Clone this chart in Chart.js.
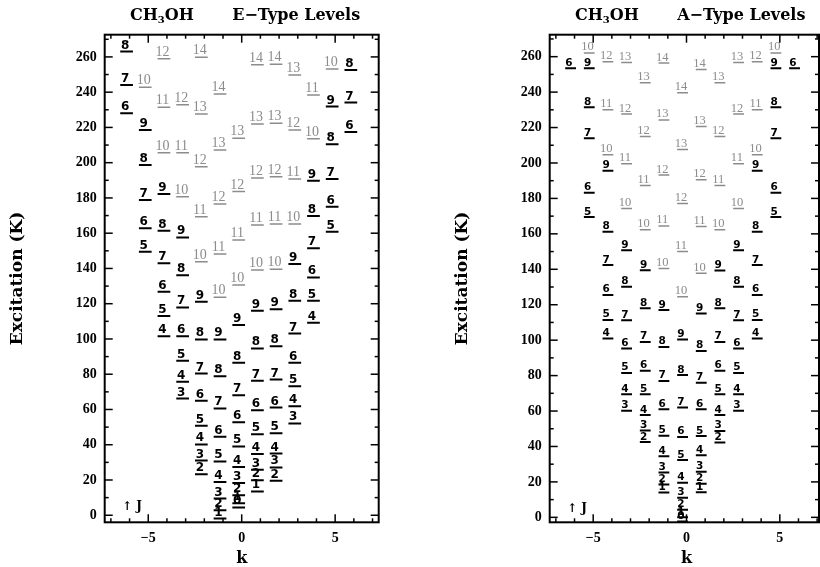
<!DOCTYPE html>
<html>
<head>
<meta charset="utf-8">
<script src="https://cdn.jsdelivr.net/npm/chart.js@4/dist/chart.umd.min.js"></script>
<style>
body { margin: 0; background: #fff; }
#wrap { position: relative; width: 820px; height: 567px; }
canvas { position: absolute; left: 0; top: 0; }
</style>
</head>
<body>
<div id="wrap">
<canvas id="eLevels" width="820" height="567"></canvas>
<canvas id="aLevels" width="820" height="567"></canvas>
</div>
<script>
// k ladders, first J in each ladder, level energies (K)
var eCols = [-6, -5, -4, -3, -2, -1, 0, 1, 2, 3, 4, 5, 6];
var eFirstJ = [6, 5, 4, 3, 2, 1, 0, 1, 2, 3, 4, 5, 6];
var eEnergy = [
  [228, 244.1, 263],
  [149.5, 162.8, 178.8, 198.7, 218.6, 242.8],
  [101.6, 113, 126.8, 142.9, 161.4, 182.2, 205.7, 231.4, 258.9],
  [66.2, 75.7, 87.6, 101.6, 117.9, 136.2, 157.6, 180.7, 205.7, 232.8],
  [23.3, 31, 40.2, 50.8, 64.9, 80.4, 99.7, 121.1, 143.8, 169.3, 197.7, 227.6, 259.8],
  [-1.9, 2.8, 9.5, 18.9, 30.5, 44.5, 60.6, 78.9, 99.7, 123.6, 148.2, 176.6, 207.2, 239],
  [4.4, 6.8, 11.4, 18.3, 27.4, 39, 52.7, 68.1, 86.5, 107.9, 130.6, 156.1, 183.6, 213.9],
  [13.5, 19.9, 25.8, 34.8, 46, 59.6, 76.3, 94.6, 116, 139.1, 164.6, 191.3, 222, 255.5],
  [19.5, 27.1, 35, 46.5, 61.1, 77, 95.9, 116.8, 139.5, 165.2, 192, 222.4, 255.9],
  [52.1, 61.9, 73.2, 86.5, 103.1, 121.7, 142.5, 165.2, 190.7, 218.5, 249.8],
  [109.2, 121.7, 134.9, 151.4, 169.7, 189.8, 213.6, 238.4],
  [160.8, 175, 190.7, 210.5, 231.8, 253.2],
  [217.4, 234.1, 252.6]
];

var aCols = [-6, -5, -4, -3, -2, -1, 0, 1, 2, 3, 4, 5, 6];
var aFirstJ = [6, 5, 4, 3, 2, 1, 0, 1, 2, 3, 4, 5, 6];
var aEnergy = [
  [253.4],
  [169.5, 183.2, 214, 231.5, 253.4, 262.1],
  [101, 111.4, 125.5, 142.4, 161.2, 195.6, 204.6, 230, 257.2],
  [60.1, 69.5, 81.5, 95.3, 111.3, 130.1, 150.8, 174.3, 199.5, 227.6, 256.7],
  [42.5, 49, 57.7, 69.5, 82.7, 99, 118, 139.5, 162.3, 187.3, 215, 245.3],
  [14, 18.5, 25.3, 34.5, 46, 61, 77, 96.2, 117, 140.5, 164.5, 193.2, 224.3, 256.4],
  [-2.4, 0, 4.3, 11, 19.5, 32.3, 45.4, 62, 80.3, 100.4, 124.5, 150.1, 177.1, 207.6, 239.6],
  [14.2, 19, 25.7, 35, 45.9, 61, 75.9, 93.9, 115, 137.7, 164.1, 190.5, 220.6, 252.7],
  [42.2, 48.8, 57.7, 69.5, 82.7, 99, 118, 139.3, 162.3, 187.3, 215, 245.3],
  [60.1, 69.5, 81.5, 95.3, 111.3, 130.1, 150.8, 174.3, 199.5, 227.6, 256.7],
  [101, 111.4, 125.5, 142.4, 161.2, 195.6, 204.6, 230, 257.2],
  [169.5, 183.2, 214, 231.5, 253.4, 262.1],
  [253.4]
];

var xTicks = [-5, 0, 5];
var yTicks = [0, 20, 40, 60, 80, 100, 120, 140, 160, 180, 200, 220, 240, 260];
var GREY = '#8c8c8c';

// one line segment per level, broken by null points
function segments(cols, firstJ, energy, grey, x0, x1) {
  var pts = [];
  cols.forEach(function (k, c) {
    energy[c].forEach(function (e, i) {
      var j = firstJ[c] + i;
      if ((j >= 10) !== grey) return;
      pts.push({x: k + x0, y: e}, {x: k + x1, y: e}, {x: k + x1, y: null});
    });
  });
  return pts;
}

function line(ctx, x0, y0, x1, y1) {
  ctx.beginPath(); ctx.moveTo(x0, y0); ctx.lineTo(x1, y1); ctx.stroke();
}

var levelPlot = {
  id: 'levelPlot',
  afterDraw: function (chart, args, o) {
    var ctx = chart.ctx, a = chart.chartArea, xs = chart.scales.x, ys = chart.scales.y;
    ctx.save();
    // J labels over the levels
    ctx.textAlign = 'center';
    ctx.textBaseline = 'alphabetic';
    o.cols.forEach(function (k, c) {
      o.energy[c].forEach(function (e, i) {
        var j = o.firstJ[c] + i;
        var grey = j >= 10;
        ctx.font = grey ? o.greyFont : o.blackFont;
        ctx.fillStyle = grey ? GREY : '#000';
        ctx.fillText(String(j), xs.getPixelForValue(k + o.labelDx), ys.getPixelForValue(e) - o.labelGap);
      });
    });
    // frame with inward ticks
    ctx.strokeStyle = '#000';
    ctx.lineWidth = 1.5;
    for (var k = Math.ceil(xs.min); k <= xs.max; k++) {
      var px = xs.getPixelForValue(k), len = k % 5 === 0 ? 8 : 4;
      line(ctx, px, a.bottom, px, a.bottom - len);
      line(ctx, px, a.top, px, a.top + len);
    }
    for (var v = 0; v <= ys.max; v += 10) {
      var py = ys.getPixelForValue(v), ln = v % 20 === 0 ? 8 : 4;
      line(ctx, a.left, py, a.left + ln, py);
      line(ctx, a.right, py, a.right - ln, py);
    }
    ctx.lineWidth = 2;
    ctx.strokeRect(a.left, a.top, a.right - a.left, a.bottom - a.top);
    // titles
    ctx.fillStyle = '#000';
    ctx.textAlign = 'left';
    ctx.font = 'bold 16px "DejaVu Serif"';
    var tx = a.left + 25.3;
    ctx.fillText('CH', tx, 20);
    tx += ctx.measureText('CH').width;
    ctx.font = 'bold 10px "DejaVu Serif"';
    ctx.fillText('3', tx, 23);
    tx += ctx.measureText('3').width;
    ctx.font = 'bold 16px "DejaVu Serif"';
    ctx.fillText('OH', tx, 20);
    ctx.fillText(o.title, a.left + 127.5, 20);
    // axis titles
    ctx.font = 'bold 16px "DejaVu Serif"';
    ctx.textAlign = 'center';
    ctx.fillText('k', xs.getPixelForValue(0), 563);
    ctx.save();
    ctx.translate(a.left - 87.5, (a.top + a.bottom) / 2);
    ctx.rotate(-Math.PI / 2);
    ctx.font = 'bold 17px "DejaVu Serif"';
    ctx.textBaseline = 'middle';
    ctx.fillText('Excitation (K)', 0, 0);
    ctx.restore();
    ctx.textAlign = 'left';
    ctx.font = 'bold 12px "DejaVu Serif"';
    ctx.fillText('\u2191 J', xs.getPixelForValue(-6.4), ys.getPixelForValue(3));
    ctx.restore();
  }
};

function makeChart(id, cols, firstJ, energy, opt) {
  return new Chart(document.getElementById(id), {
    type: 'line',
    data: {
      datasets: [{
        data: segments(cols, firstJ, energy, true, opt.x0, opt.x1),
        borderColor: GREY, borderWidth: 1.5, pointRadius: 0, spanGaps: false
      }, {
        data: segments(cols, firstJ, energy, false, opt.x0, opt.x1),
        borderColor: '#000', borderWidth: 2, pointRadius: 0, spanGaps: false
      }]
    },
    options: {
      responsive: false,
      animation: false,
      layout: {padding: {left: 0, top: 34.7, right: 820 - opt.right, bottom: 0}},
      plugins: {
        legend: {display: false},
        tooltip: {enabled: false},
        levelPlot: {
          cols: cols, firstJ: firstJ, energy: energy, title: opt.title,
          labelDx: opt.labelDx, labelGap: opt.labelGap,
          blackFont: opt.blackFont, greyFont: opt.greyFont
        }
      },
      scales: {
        x: {
          type: 'linear', min: -7.33, max: opt.xMax,
          grid: {display: false, drawTicks: false}, border: {display: false},
          afterBuildTicks: function (s) { s.ticks = xTicks.map(function (v) { return {value: v}; }); },
          afterFit: function (s) { s.height = 567 - 522.3; },
          ticks: {
            color: '#000', padding: 8, maxRotation: 0,
            font: {family: 'Liberation Serif', weight: 'bold', size: 14},
            callback: function (v) { return v < 0 ? '\u2212' + (-v) : String(v); }
          }
        },
        y: {
          min: opt.yMin, max: opt.yMax,
          grid: {display: false, drawTicks: false}, border: {display: false},
          afterBuildTicks: function (s) { s.ticks = yTicks.map(function (v) { return {value: v}; }); },
          afterFit: function (s) { s.width = opt.left; },
          ticks: {
            color: '#000', padding: 8,
            font: {family: 'Liberation Serif', weight: 'bold', size: 14}
          }
        }
      }
    },
    plugins: [levelPlot]
  });
}

makeChart('eLevels', eCols, eFirstJ, eEnergy, {
  title: 'E\u2212Type Levels', left: 104.7, right: 378.7, xMax: 7.33,
  yMin: -4.0, yMax: 272.6, x0: -0.5, x1: 0.18, labelDx: -0.24, labelGap: 3,
  blackFont: 'bold 12px "DejaVu Sans"', greyFont: '14px "Liberation Serif"'
});

makeChart('aLevels', aCols, aFirstJ, aEnergy, {
  title: 'A\u2212Type Levels', left: 549.7, right: 819, xMax: 7.1,
  yMin: -2.8, yMax: 272.4, x0: -0.5, x1: 0.08, labelDx: -0.3, labelGap: 2.5,
  blackFont: 'bold 10.5px "DejaVu Sans"', greyFont: '12.5px "Liberation Serif"'
});
</script>
</body>
</html>
